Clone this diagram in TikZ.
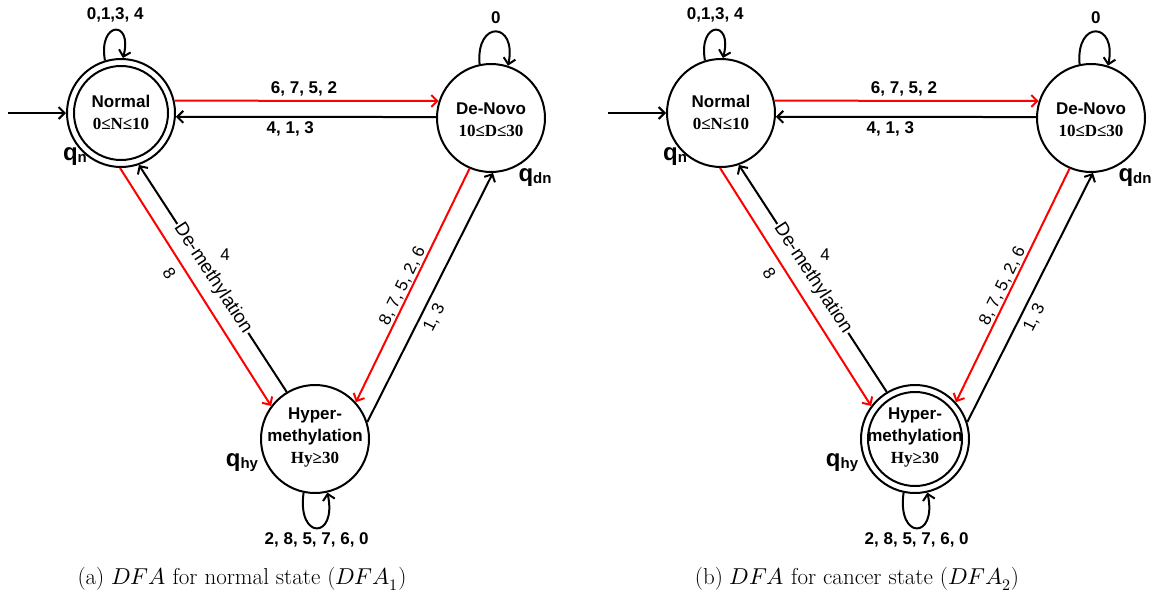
\documentclass[tikz,border=0pt]{standalone}
\usepackage{fontspec}
\usepackage{unicode-math}
\newfontfamily\arial{Liberation Sans}
\newfontfamily\tnr{Liberation Serif}
\usetikzlibrary{arrows.meta}

\tikzset{
  st/.style={circle, draw, line width=2pt, minimum size=108pt, inner sep=0pt},
  ln/.style={line width=2pt, -{Straight Barb[length=6pt,width=12pt]}},
  rl/.style={ln, draw=red},
  lab/.style={font=\arial\bfseries\fontsize{17}{17}\selectfont, inner sep=2pt},
  labr/.style={font=\arial\fontsize{17}{17}\selectfont, inner sep=2pt},
  labm/.style={font=\arial\fontsize{19}{19}\selectfont, inner sep=1pt},
  sttext/.style={align=center, font=\arial\bfseries\fontsize{17}{22}\selectfont},
  qst/.style={font=\arial\bfseries, inner sep=0pt},
  captext/.style={font=\fontsize{23}{27}\selectfont},
}
\newcommand\qlab[1]{{\fontsize{24}{24}\selectfont q}\raisebox{-2pt}{\fontsize{15}{15}\selectfont #1}}

% #1 prefix, #2 name of accepting state
\newcommand\dfapic[2]{%
  \node[st] (#1N) at (121,113) {};
  \node[st] (#1D) at (491,118) {};
  \node[st] (#1H) at (315,439) {};
  \draw[line width=2pt] (#2) circle[radius=47pt];
  \node[sttext] (#1Nt) at (121,112) {Normal\\{\tnr\bfseries 0≤N≤10}};
  \node[sttext] (#1Dt) at (491,120) {De-Novo\\{\tnr\bfseries 10≤D≤30}};
  \node[sttext] (#1Ht) at (315,437) {Hyper-\\methylation\\{\tnr\bfseries Hy≥30}};
  \node[qst] (#1qn) at (75,157) {\qlab{n}};
  \node[qst] (#1qd) at (535,178) {\qlab{dn}};
  \node[qst] (#1qh) at (242,463) {\qlab{hy}};
  % start arrow
  \coordinate (#1S) at (8,113);
  \draw[ln] (#1S) -- (#1N.west);
  % Normal <-> De-Novo
  \draw[rl] (#1N.13) -- node[lab, above=2pt, pos=0.49] (#1l1) {6, 7, 5, 2} (#1D.162);
  \draw[ln] (#1D.179) -- node[lab, below=2pt, pos=0.56] (#1l2) {4, 1, 3} (#1N.-4);
  % Normal <-> Hyper
  \draw[rl] (#1N.269) -- node[labr, sloped, below=6pt, pos=0.41] (#1l3) {8} (#1H.143);
  \draw[ln] (#1H.121) -- node[labm, sloped, fill=white, pos=0.5] (#1l4) {De-methylation}
     node[labr, pos=0.546, xshift=19pt, yshift=13pt] (#1l5) {4} (#1N.-71);
  % De-Novo <-> Hyper
  \draw[rl] (#1D.247) -- node[labr, sloped, above=0pt, inner sep=1pt, pos=0.518] (#1l6) {8, 7, 5, 2, 6} (#1H.42);
  \draw[ln] (#1H.18) -- node[labr, sloped, below=3pt, pos=0.442] (#1l7) {1, 3} (#1D.272);
  % loops
  \draw[ln] (#1N.107) .. controls +(100:40pt) and +(75:40pt) .. node[lab, above=5pt] (#1l8) {0,1,3, 4} (#1N.88);
  \draw[ln] (#1D.102) .. controls +(95:45pt) and +(78:45pt) .. node[lab, above=5pt] (#1l9) {0} (#1D.72);
  \draw[ln] (#1H.258) .. controls +(262:48pt) and +(282:48pt) .. node[lab, below=1pt] (#1l10) {2, 8, 5, 7, 6, 0} (#1H.283);
}

\begin{document}
\begin{tikzpicture}[x=1pt,y=-1pt]
  \useasboundingbox (0,0) rectangle (1157,597);
  \dfapic{a}{aN}
  \begin{scope}[xshift=600pt]
    \dfapic{b}{bH}
  \end{scope}
  \node[captext] (capa) at (242,579) {(a) $DFA$ for normal state ($DFA_1$)};
  \node[captext] (capb) at (857,579) {(b) $DFA$ for cancer state ($DFA_2$)};
\end{tikzpicture}
\end{document}
